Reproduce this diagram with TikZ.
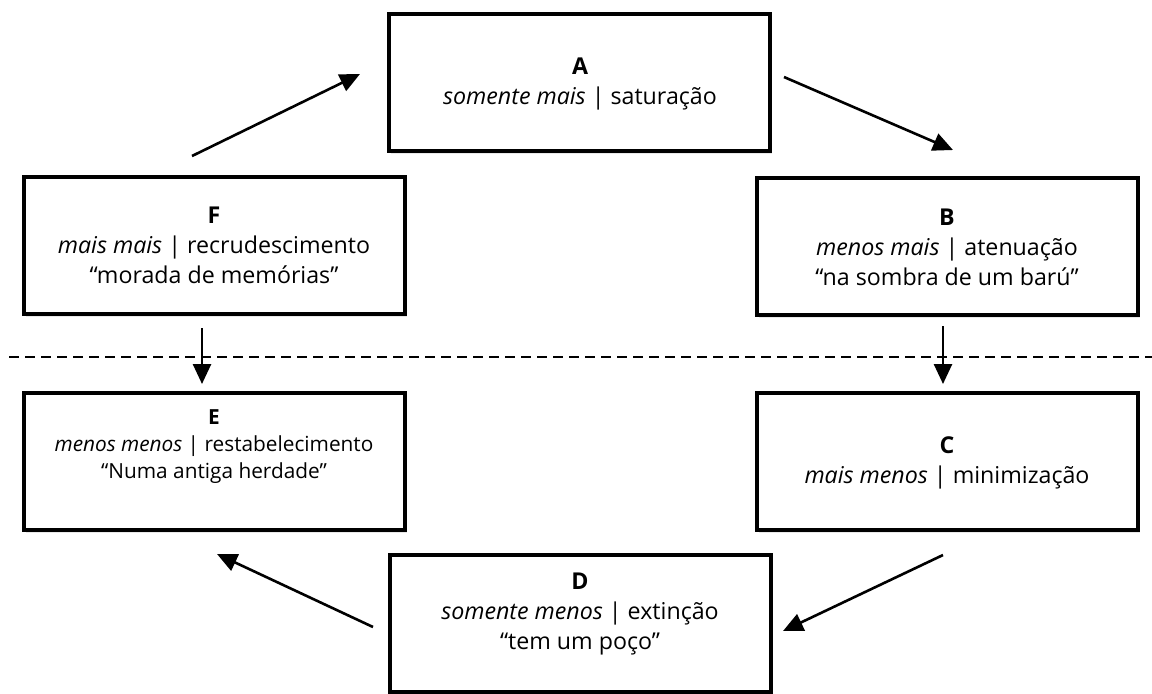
\documentclass[tikz,border=0pt]{standalone}
\usepackage{fontspec}
\setmainfont{Open Sans}
\usetikzlibrary{arrows.meta,shadows}

\begin{document}
\begin{tikzpicture}[x=0.5pt,y=-0.5pt,>={Triangle[length=10pt,width=9pt]},
    box/.style={draw,line width=2pt,fill=white,minimum width=190.5pt,minimum height=68.5pt,
      drop shadow={shadow xshift=1pt,shadow yshift=-1.5pt,opacity=.18}},
    txt/.style={align=center,font=\fontsize{11.6}{15}\selectfont},
    small/.style={align=center,font=\fontsize{10.4}{13.5}\selectfont},
    flow/.style={->,line width=1.3pt}]
  \useasboundingbox (0,0) rectangle (1152,693);

  % boxes
  \node[box] (A) at (579.5,82) {};
  \node[box] (B) at (947.5,246) {};
  \node[box] (C) at (947.5,461.5) {};
  \node[box] (D) at (580,623.5) {};
  \node[box] (E) at (214,461.5) {};
  \node[box] (F) at (214,245.5) {};

  % texts
  \node[txt] (At) at (580,84) {\textbf{A}\\\textit{somente mais} | saturação};
  \node[txt] (Bt) at (947,247) {\textbf{B}\\\textit{menos mais} | atenuação\\“na sombra de um barú”};
  \node[txt] (Ct) at (947,463) {\textbf{C}\\\textit{mais menos} | minimização};
  \node[txt] (Dt) at (580,614) {\textbf{D}\\\textit{somente menos} | extinção\\“tem um poço”};
  \node[small] (Et) at (214,447) {\textbf{E}\\\textit{menos menos} | restabelecimento\\“Numa antiga herdade”};
  \node[txt] (Ft) at (214,245) {\textbf{F}\\\textit{mais mais} | recrudescimento\\“morada de memórias”};

  % arrow ends
  \coordinate (fa1) at (192,156);
  \coordinate (fa2) at (360,74);
  \coordinate (ab1) at (784,77);
  \coordinate (ab2) at (953,150);
  \coordinate (bc1) at (943,326);
  \coordinate (bc2) at (943,384);
  \coordinate (cd1) at (943,555);
  \coordinate (cd2) at (783,631);
  \coordinate (de1) at (373,627);
  \coordinate (de2) at (217,554);
  \coordinate (fe1) at (202,328);
  \coordinate (fe2) at (202,384);
  \coordinate (dl1) at (9,357);
  \coordinate (dl2) at (1152,357);

  \draw[line width=1pt,dash pattern=on 5pt off 3pt] (dl1) -- (dl2);

  \draw[flow] (fa1) -- (fa2);
  \draw[flow] (ab1) -- (ab2);
  \draw[flow] (bc1) -- (bc2);
  \draw[flow] (cd1) -- (cd2);
  \draw[flow] (de1) -- (de2);
  \draw[flow] (fe1) -- (fe2);
\end{tikzpicture}
\end{document}
